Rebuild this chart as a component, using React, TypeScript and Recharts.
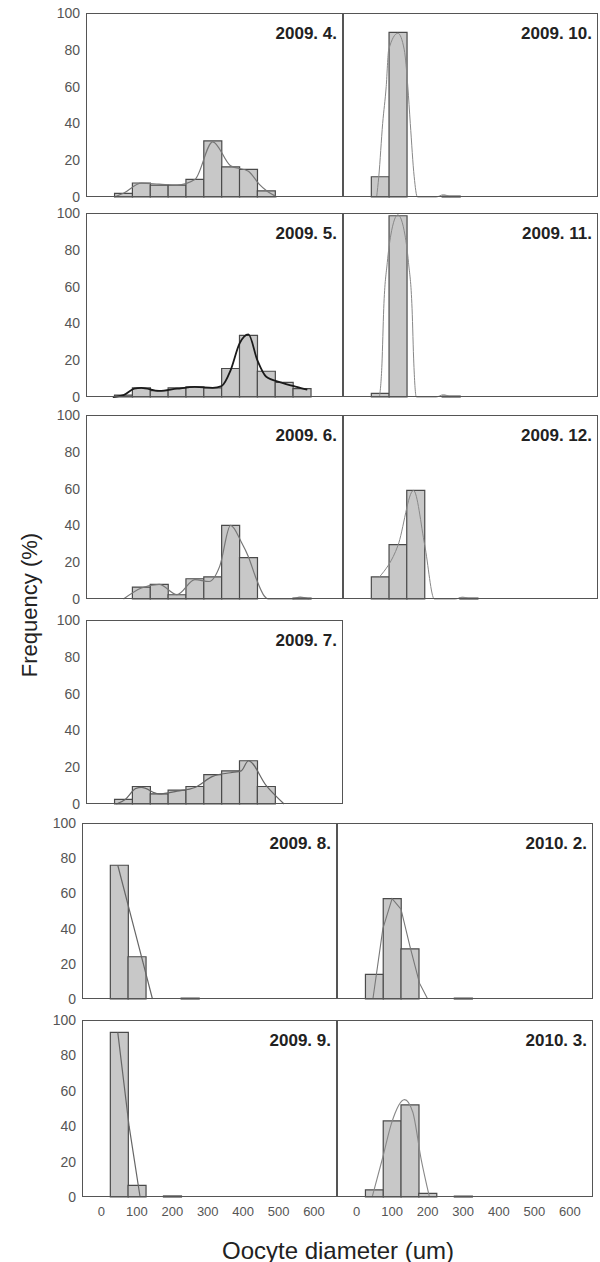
import React from 'react';
import { ComposedChart, LineChart, Bar, Line, XAxis, YAxis } from 'recharts';

const FONT = '"Liberation Sans", Arial, sans-serif';

// size classes (um), class centres
const BINS = [50, 100, 150, 200, 250, 300, 350, 400, 450, 500, 550];
const Y_TICKS = [0, 20, 40, 60, 80, 100];
const X_TICKS = [0, 100, 200, 300, 400, 500, 600];
const MINOR_TICKS = [-50, -25, 0, 25, 50, 75, 100, 125, 150, 175, 200, 225, 250, 275, 300, 325, 350, 375, 400, 425, 450, 475, 500, 525, 550, 575, 600, 625, 650];
const X_DOMAIN: [number, number] = [-55, 665];

// frequency (%) per class
const apr2009 = [2, 7.6, 6.5, 6.5, 9.6, 30.5, 16.4, 15, 3.3, 0, 0];
const may2009 = [1, 5, 3.5, 5, 5.5, 5, 15.5, 33.5, 14, 8, 4.5];
const jun2009 = [0, 6.5, 8, 2.3, 11, 12, 40, 22.5, 0, 0, 0.5];
const jul2009 = [2.5, 9.5, 5.5, 7.5, 9.5, 16, 18, 23.5, 9.5, 0, 0];
const aug2009 = [76, 24, 0, 0, 0.5, 0, 0, 0, 0, 0, 0];
const sep2009 = [93, 6.6, 0, 0.6, 0, 0, 0, 0, 0, 0, 0];
const oct2009 = [11, 89.5, 0, 0, 0.5, 0, 0, 0, 0, 0, 0];
const nov2009 = [2, 98.5, 0, 0, 0.5, 0, 0, 0, 0, 0, 0];
const dec2009 = [12, 29.5, 59, 0, 0, 0.5, 0, 0, 0, 0, 0];
const feb2010 = [14, 57, 28.5, 0, 0, 0.5, 0, 0, 0, 0, 0];
const mar2010 = [4, 43, 52, 2, 0, 0.5, 0, 0, 0, 0, 0];

// fitted curves
const apr2009CurveX = [25, 50, 100, 150, 200, 250, 300, 350, 400, 430, 450, 480];
const apr2009CurveY = [0, 2, 7.5, 7, 6.5, 9.5, 30, 17, 14, 7, 3.5, 0];
const may2009CurveX = [20, 50, 80, 100, 150, 200, 250, 300, 325, 350, 375, 400, 425, 450, 490, 535, 565];
const may2009CurveY = [0, 1, 4.5, 5, 3.3, 4.5, 5.5, 5, 6, 14.5, 29, 34, 20, 11, 8, 5.5, 4];
const jun2009CurveX = [50, 100, 150, 200, 250, 290, 320, 350, 380, 400, 420, 445, 455, 520, 545, 570];
const jun2009CurveY = [0, 6, 8, 2.4, 10.5, 9.5, 18, 40, 31, 23, 12, 1.5, 0, 0, 1, 0];
const jul2009CurveX = [30, 55, 85, 100, 150, 200, 250, 300, 350, 380, 400, 450, 500];
const jul2009CurveY = [0, 2.5, 8.5, 9, 5.5, 7, 9, 15, 17, 18, 23.5, 10, 0];
const aug2009CurveX = [46, 95, 144];
const aug2009CurveY = [76, 38, 0];
const sep2009CurveX = [46, 78, 109];
const sep2009CurveY = [93, 40, 0];
const oct2009CurveX = [40, 46, 57, 67, 74, 100, 118, 128, 135, 146, 155, 208, 228, 248];
const oct2009CurveY = [0, 11, 40, 60, 80, 89, 80, 60, 40, 11, 0, 0, 1.2, 0];
const nov2009CurveX = [48, 55, 60, 70, 80, 100, 120, 130, 140, 145, 152, 208, 228, 248];
const nov2009CurveY = [0, 18, 48, 73, 88, 99, 88, 73, 48, 18, 0, 0, 1.2, 0];
const dec2009CurveX = [48, 100, 144, 176, 203, 262, 282, 302];
const dec2009CurveY = [12, 29, 59, 29, 0, 0, 1, 0];
const feb2010CurveX = [46, 74, 100, 125, 150, 177, 200];
const feb2010CurveY = [0, 40, 57, 51, 30, 9, 0];
const mar2010CurveX = [44, 74, 98, 135, 158, 182, 205];
const mar2010CurveY = [0, 22.6, 41.5, 55, 48, 21, 0];

// layout
const ROWS = [
  { y: 13, h: 184, left: 86, mid: 343, right: 598 },
  { y: 213, h: 184, left: 86, mid: 343, right: 598 },
  { y: 415, h: 184, left: 86, mid: 343, right: 598 },
  { y: 620, h: 184, left: 86, mid: 343, right: 598 },
  { y: 823, h: 176, left: 82, mid: 337, right: 593 },
  { y: 1020, h: 177, left: 82, mid: 337, right: 593 },
];

type PanelDef = {
  title: string;
  values: number[];
  cx: number[];
  cy: number[];
  row: number;
  side: 'left' | 'right';
  color: string;
  lw: number;
  curve: 'monotone' | 'linear';
};

const PANELS: PanelDef[] = [
  { title: '2009. 4.', values: apr2009, cx: apr2009CurveX, cy: apr2009CurveY, row: 0, side: 'left', color: '#777', lw: 1.2, curve: 'monotone' },
  { title: '2009. 10.', values: oct2009, cx: oct2009CurveX, cy: oct2009CurveY, row: 0, side: 'right', color: '#888', lw: 1, curve: 'monotone' },
  { title: '2009. 5.', values: may2009, cx: may2009CurveX, cy: may2009CurveY, row: 1, side: 'left', color: '#1a1a1a', lw: 1.8, curve: 'monotone' },
  { title: '2009. 11.', values: nov2009, cx: nov2009CurveX, cy: nov2009CurveY, row: 1, side: 'right', color: '#888', lw: 1, curve: 'monotone' },
  { title: '2009. 6.', values: jun2009, cx: jun2009CurveX, cy: jun2009CurveY, row: 2, side: 'left', color: '#777', lw: 1.2, curve: 'monotone' },
  { title: '2009. 12.', values: dec2009, cx: dec2009CurveX, cy: dec2009CurveY, row: 2, side: 'right', color: '#888', lw: 1, curve: 'monotone' },
  { title: '2009. 7.', values: jul2009, cx: jul2009CurveX, cy: jul2009CurveY, row: 3, side: 'left', color: '#666', lw: 1.2, curve: 'monotone' },
  { title: '2009. 8.', values: aug2009, cx: aug2009CurveX, cy: aug2009CurveY, row: 4, side: 'left', color: '#666', lw: 1.2, curve: 'linear' },
  { title: '2010. 2.', values: feb2010, cx: feb2010CurveX, cy: feb2010CurveY, row: 4, side: 'right', color: '#777', lw: 1.1, curve: 'linear' },
  { title: '2009. 9.', values: sep2009, cx: sep2009CurveX, cy: sep2009CurveY, row: 5, side: 'left', color: '#666', lw: 1.2, curve: 'linear' },
  { title: '2010. 3.', values: mar2010, cx: mar2010CurveX, cy: mar2010CurveY, row: 5, side: 'right', color: '#888', lw: 1.1, curve: 'monotone' },
];

function Panel({ p }: { p: PanelDef }) {
  const r = ROWS[p.row];
  const isLeft = p.side === 'left';
  const plotX = isLeft ? r.left : r.mid;
  const plotW = isLeft ? r.mid - r.left : r.right - r.mid;
  const plotH = r.h;
  const bottomRow = p.row === ROWS.length - 1;
  const axisW = isLeft ? 44 : 0;
  const padT = 10;
  const padB = 10;
  const xh = bottomRow ? 26 : 0;
  const W = axisW + plotW;
  const H = padT + plotH + xh + padB;

  const barData = BINS.map((b, i) => ({ x: b, v: p.values[i] }));
  const curveData = p.cx.map((x, i) => ({ x, c: p.cy[i] }));

  return (
    <div style={{ position: 'absolute', left: plotX - axisW, top: r.y - padT, width: W, height: H }}>
      <div style={{ position: 'absolute', left: 0, top: 0 }}>
        <ComposedChart width={W} height={H} data={barData} margin={{ top: padT, right: 0, bottom: padB, left: 0 }} barCategoryGap={0} barGap={0}>
          {bottomRow ? (
            <XAxis
              type="number"
              dataKey="x"
              domain={X_DOMAIN}
              allowDataOverflow
              ticks={X_TICKS}
              interval={0}
              height={xh}
              axisLine={false}
              tickLine={false}
              tickSize={6}
              tickMargin={4}
              tick={{ fontSize: 13, fill: '#555', fontFamily: FONT }}
            />
          ) : (
            <XAxis
              type="number"
              dataKey="x"
              domain={X_DOMAIN}
              allowDataOverflow
              ticks={isLeft ? MINOR_TICKS : X_TICKS}
              interval={0}
              height={0}
              mirror
              axisLine={false}
              tick={false}
              tickSize={isLeft ? 2 : 3}
              tickLine={{ stroke: '#777' }}
            />
          )}
          {isLeft ? (
            <YAxis
              type="number"
              domain={[0, 100]}
              ticks={Y_TICKS}
              interval={0}
              width={axisW}
              axisLine={false}
              tickLine={false}
              tickSize={4}
              tickMargin={2}
              tick={{ fontSize: 14, fill: '#555', fontFamily: FONT }}
            />
          ) : (
            <YAxis
              type="number"
              domain={[0, 100]}
              ticks={[20, 40, 60, 80]}
              interval={0}
              width={0}
              mirror
              axisLine={false}
              tick={false}
              tickSize={3}
              tickLine={{ stroke: '#777' }}
            />
          )}
          <Bar dataKey="v" fill="#c8c8c8" stroke="#4a4a4a" strokeWidth={1.2} isAnimationActive={false} />
        </ComposedChart>
      </div>
      <div style={{ position: 'absolute', left: 0, top: 0 }}>
        <LineChart width={W} height={H} data={curveData} margin={{ top: padT, right: 0, bottom: padB + xh, left: axisW }}>
          <XAxis type="number" dataKey="x" domain={X_DOMAIN} allowDataOverflow hide />
          <YAxis type="number" domain={[0, 100]} hide />
          <Line dataKey="c" type={p.curve} stroke={p.color} strokeWidth={p.lw} dot={false} isAnimationActive={false} />
        </LineChart>
      </div>
      <div
        style={{
          position: 'absolute',
          left: axisW - 0.5,
          top: padT - 0.5,
          width: plotW,
          height: plotH,
          border: '1px solid #555',
          boxSizing: 'border-box',
          pointerEvents: 'none',
        }}
      />
      <div
        style={{
          position: 'absolute',
          right: 6,
          top: padT + 12,
          fontFamily: FONT,
          fontWeight: 'bold',
          fontSize: 17,
          lineHeight: '17px',
          color: '#222',
          whiteSpace: 'nowrap',
        }}
      >
        {p.title}
      </div>
    </div>
  );
}

export default function App() {
  return (
    <div style={{ position: 'absolute', left: 0, top: 0, width: 600, height: 1262, background: '#fff', fontFamily: FONT }}>
      {PANELS.map((p) => (
        <Panel key={p.title} p={p} />
      ))}
      <div
        style={{
          position: 'absolute',
          left: 30,
          top: 605,
          transform: 'translate(-50%, -50%) rotate(-90deg)',
          fontSize: 22,
          color: '#222',
          whiteSpace: 'nowrap',
        }}
      >
        Frequency (%)
      </div>
      <div
        style={{
          position: 'absolute',
          left: 338,
          top: 1251,
          transform: 'translate(-50%, -50%)',
          fontSize: 24,
          color: '#222',
          whiteSpace: 'nowrap',
        }}
      >
        Oocyte diameter (um)
      </div>
    </div>
  );
}
